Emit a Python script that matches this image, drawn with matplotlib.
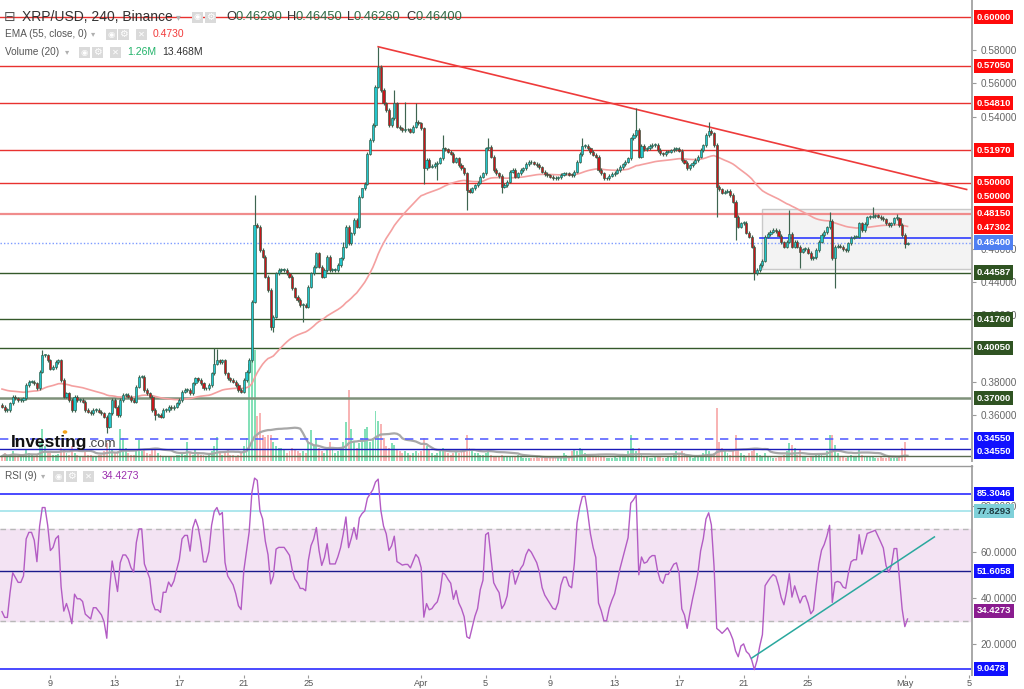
import numpy as np
import pandas as pd
import matplotlib
matplotlib.use("Agg")
import matplotlib.pyplot as plt
from matplotlib.patches import Rectangle
from matplotlib.transforms import blended_transform_factory as blend

plt.rcParams['font.family'] = ['Liberation Sans', 'DejaVu Sans']

# ---------------- data (4h candles, XRP/USD Binance) ----------------
START = pd.Timestamp("2019-03-06 00:00")
FIRST_OPEN = 0.3660
CLOSE = [
    0.3650, 0.3630, 0.3630, 0.3670, 0.3710, 0.3700, 0.3690, 0.3690, 0.3700, 0.3780,
    0.3800, 0.3800, 0.3790, 0.3760, 0.3860, 0.3960, 0.3960, 0.3930, 0.3880, 0.3890,
    0.3920, 0.3930, 0.3810, 0.3710, 0.3730, 0.3690, 0.3630, 0.3710, 0.3690, 0.3690,
    0.3680, 0.3630, 0.3620, 0.3610, 0.3630, 0.3630, 0.3620, 0.3610, 0.3590, 0.3530,
    0.3610, 0.3690, 0.3650, 0.3600, 0.3690, 0.3720, 0.3720, 0.3710, 0.3690, 0.3680,
    0.3770, 0.3830, 0.3830, 0.3750, 0.3730, 0.3710, 0.3630, 0.3600, 0.3600, 0.3590,
    0.3630, 0.3630, 0.3650, 0.3640, 0.3650, 0.3670, 0.3690, 0.3740, 0.3750, 0.3750,
    0.3730, 0.3790, 0.3820, 0.3810, 0.3790, 0.3760, 0.3760, 0.3780, 0.3850, 0.3910,
    0.3930, 0.3920, 0.3930, 0.3850, 0.3820, 0.3810, 0.3800, 0.3780, 0.3750, 0.3740,
    0.3810, 0.3861, 0.3931, 0.4283, 0.4745, 0.4735, 0.4594, 0.4554, 0.4434, 0.4353,
    0.4132, 0.4192, 0.4454, 0.4474, 0.4474, 0.4474, 0.4454, 0.4434, 0.4363, 0.4313,
    0.4293, 0.4263, 0.4263, 0.4253, 0.4373, 0.4454, 0.4494, 0.4574, 0.4494, 0.4434,
    0.4474, 0.4554, 0.4474, 0.4474, 0.4474, 0.4504, 0.4544, 0.4615, 0.4735, 0.4635,
    0.4695, 0.4775, 0.4735, 0.4916, 0.4966, 0.4996, 0.5177, 0.5258, 0.5348, 0.5580,
    0.5700, 0.5560, 0.5479, 0.5439, 0.5348, 0.5389, 0.5479, 0.5338, 0.5328, 0.5318,
    0.5322, 0.5322, 0.5308, 0.5338, 0.5368, 0.5358, 0.5328, 0.5087, 0.5137, 0.5097,
    0.5101, 0.5113, 0.5121, 0.5147, 0.5208, 0.5202, 0.5188, 0.5177, 0.5127, 0.5147,
    0.5107, 0.5087, 0.5057, 0.4956, 0.4946, 0.4966, 0.4986, 0.5000, 0.5037, 0.5057,
    0.5208, 0.5218, 0.5158, 0.5077, 0.5057, 0.5041, 0.4977, 0.4987, 0.5007, 0.5067,
    0.5077, 0.5037, 0.5057, 0.5077, 0.5087, 0.5113, 0.5128, 0.5123, 0.5115, 0.5107,
    0.5093, 0.5067, 0.5053, 0.5045, 0.5037, 0.5029, 0.5027, 0.5033, 0.5049, 0.5057,
    0.5057, 0.5049, 0.5047, 0.5067, 0.5128, 0.5174, 0.5222, 0.5224, 0.5208, 0.5186,
    0.5170, 0.5158, 0.5077, 0.5057, 0.5027, 0.5027, 0.5043, 0.5053, 0.5061, 0.5077,
    0.5095, 0.5111, 0.5128, 0.5148, 0.5268, 0.5288, 0.5318, 0.5158, 0.5222, 0.5204,
    0.5208, 0.5222, 0.5228, 0.5228, 0.5198, 0.5178, 0.5172, 0.5188, 0.5188, 0.5196,
    0.5204, 0.5206, 0.5194, 0.5136, 0.5122, 0.5087, 0.5105, 0.5122, 0.5138, 0.5158,
    0.5198, 0.5226, 0.5288, 0.5314, 0.5298, 0.5228, 0.4977, 0.4961, 0.4941, 0.4947,
    0.4953, 0.4926, 0.4886, 0.4796, 0.4735, 0.4756, 0.4760, 0.4699, 0.4675, 0.4615,
    0.4454, 0.4474, 0.4505, 0.4531, 0.4675, 0.4691, 0.4705, 0.4715, 0.4709, 0.4681,
    0.4641, 0.4615, 0.4645, 0.4691, 0.4615, 0.4645, 0.4615, 0.4585, 0.4599, 0.4601,
    0.4579, 0.4545, 0.4551, 0.4595, 0.4645, 0.4685, 0.4703, 0.4731, 0.4772, 0.4545,
    0.4615, 0.4619, 0.4615, 0.4599, 0.4595, 0.4635, 0.4669, 0.4675, 0.4675, 0.4756,
    0.4715, 0.4752, 0.4792, 0.4796, 0.4800, 0.4804, 0.4796, 0.4788, 0.4780, 0.4756,
    0.4746, 0.4756, 0.4786, 0.4786, 0.4746, 0.4685, 0.4629, 0.4640,
]
HIGHS = {15: 0.3992, 79: 0.4002, 80: 0.4000, 94: 0.4926, 127: 0.4645, 134: 0.4886,
         140: 0.5821, 146: 0.5560, 150: 0.5489, 154: 0.5479, 164: 0.5288, 181: 0.5268,
         216: 0.5268, 236: 0.5449, 263: 0.5369, 293: 0.4836, 308: 0.4826, 324: 0.4856,
         333: 0.4812, 337: 0.4645}
LOWS = {39: 0.3489, 57: 0.3570, 100: 0.4112, 101: 0.4102, 112: 0.4162, 157: 0.4996,
        162: 0.5017, 173: 0.4836, 186: 0.4937, 266: 0.4796, 273: 0.4655, 280: 0.4414,
        297: 0.4484, 310: 0.4364, 336: 0.4605, 337: 0.4626}
VOLUME = [  # millions
    15, 25, 12, 20, 30, 18, 15, 12, 20, 35,
    25, 18, 15, 22, 60, 100, 45, 30, 25, 20,
    18, 22, 40, 35, 25, 20, 45, 25, 18, 15,
    15, 30, 20, 18, 15, 15, 18, 20, 30, 55,
    45, 35, 25, 30, 100, 70, 40, 25, 20, 18,
    30, 65, 30, 35, 25, 22, 40, 35, 25, 20,
    15, 15, 12, 15, 15, 18, 20, 25, 20, 60,
    25, 20, 35, 25, 20, 18, 15, 20, 30, 45,
    75, 30, 20, 25, 35, 20, 18, 15, 20, 25,
    45, 70, 300, 350, 345, 140, 150, 80, 75, 80,
    80, 60, 45, 40, 40, 35, 25, 30, 40, 35,
    30, 25, 30, 25, 60, 95, 45, 70, 40, 30,
    25, 35, 60, 40, 25, 30, 35, 60, 120, 220,
    100, 60, 40, 55, 70, 100, 105, 60, 70, 155,
    125, 115, 70, 45, 40, 55, 50, 35, 30, 25,
    30, 25, 20, 25, 30, 25, 30, 70, 45, 35,
    25, 20, 25, 30, 40, 30, 25, 20, 25, 30,
    25, 30, 35, 80, 40, 30, 25, 25, 20, 20,
    25, 35, 20, 15, 12, 15, 20, 15, 12, 15,
    12, 15, 20, 12, 10, 10, 8, 8, 10, 12,
    8, 10, 8, 10, 8, 8, 10, 12, 15, 25,
    20, 15, 30, 35, 30, 40, 35, 25, 20, 15,
    12, 15, 20, 15, 12, 10, 8, 10, 12, 10,
    12, 15, 18, 30, 80, 40, 30, 40, 20, 15,
    12, 10, 10, 12, 15, 12, 10, 10, 12, 15,
    20, 30, 25, 30, 25, 15, 12, 10, 12, 15,
    20, 25, 35, 30, 20, 25, 165, 60, 40, 30,
    25, 20, 30, 80, 35, 25, 20, 15, 25, 30,
    35, 25, 20, 15, 25, 15, 12, 10, 10, 12,
    15, 20, 30, 55, 50, 40, 20, 35, 15, 12,
    10, 12, 15, 20, 25, 20, 15, 30, 80, 80,
    50, 25, 15, 12, 10, 15, 20, 15, 12, 35,
    20, 15, 12, 15, 12, 10, 10, 12, 8, 10,
    12, 10, 8, 10, 12, 40, 60, 1.26,
]
EMA_SEED = 0.376
RSI_SEED_GAIN, RSI_SEED_LOSS = 0.0012, 0.0022

RED_LEVELS = [0.60000, 0.57050, 0.54810, 0.51970, 0.50000]
PINK_LEVEL = 0.48150
GREEN_LEVELS = [0.44587, 0.41760, 0.40050]
OLIVE_LEVEL = 0.37000
BLUE_DASH_LEVEL = 0.34550
BLUE_SOLID_LEVEL = 0.3394
DARK_LEVEL = 0.3352
LAST_PRICE = 0.46400
RANGE_LOW, RANGE_HIGH, RANGE_MID = 0.4478, 0.4840, 0.4665
RANGE_START, MID_START = "2019-04-22 04:00", "2019-04-22 00:00"
TREND = [("2019-03-29 08:00", 0.5821), ("2019-05-04 20:00", 0.4960)]
RSI_TREND = [("2019-04-21 12:00", 13.8), ("2019-05-02 20:00", 66.6)]
RSI_LEVELS_BLUE = [85.3046, 9.0478]
RSI_LEVEL_CYAN = 77.8293
RSI_LEVEL_NAVY = 51.6058
TICK_DATES = ["2019-03-09", "2019-03-13", "2019-03-17", "2019-03-21", "2019-03-25", "2019-04-01",
              "2019-04-05", "2019-04-09", "2019-04-13", "2019-04-17", "2019-04-21", "2019-04-25",
              "2019-05-01", "2019-05-05"]
TICK_LABELS = ["9", "13", "17", "21", "25", "Apr", "5", "9", "13", "17", "21", "25", "May", "5"]
PRICE_TICKS = [0.58, 0.56, 0.54, 0.46, 0.44, 0.42, 0.38, 0.36]
RSI_TICKS = [20, 40, 60, 80]

# ---------------- derived ----------------
def to_idx(ts):
    return (pd.Timestamp(ts) - START) / pd.Timedelta(hours=4)

close = np.array(CLOSE)
vol = np.array(VOLUME, dtype=float)
n = len(close)
idx = np.arange(n)
open_ = np.r_[FIRST_OPEN, close[:-1]]
body_hi = np.maximum(open_, close)
body_lo = np.minimum(open_, close)
WICK = 0.0010
high = body_hi + WICK
low = body_lo - WICK
for k, v in HIGHS.items():
    high[k] = max(v, body_hi[k])
for k, v in LOWS.items():
    low[k] = min(v, body_lo[k])
up = close >= open_

a = 2 / 56
ema = []
e = EMA_SEED
for c in close:
    e = e + a * (c - e)
    ema.append(e)
ema = np.array(ema)

delta = np.diff(np.r_[FIRST_OPEN, close])
g, l = RSI_SEED_GAIN, RSI_SEED_LOSS
rsi = []
for d in delta:
    g = (g * 8 + max(d, 0)) / 9
    l = (l * 8 + max(-d, 0)) / 9
    rsi.append(100 - 100 / (1 + g / l))
rsi = np.array(rsi)

vol_sma = pd.Series(vol).rolling(20, min_periods=1).mean().values

# ---------------- figure ----------------
W, H = 1024, 689
fig = plt.figure(figsize=(W / 100, H / 100), dpi=100)
fig.patch.set_facecolor("white")
AXW = 972 / W
ax = fig.add_axes([0, 1 - 461 / H, AXW, 461 / H])
axv = fig.add_axes([0, 1 - 461 / H, AXW, 461 / H], sharex=ax)
axr = fig.add_axes([0, 1 - 675 / H, AXW, 209 / H], sharex=ax)
axv.set_zorder(0)
ax.set_zorder(1)
ax.patch.set_visible(False)

XLIM = (-0.74, 361.0)
ax.set_xlim(*XLIM)
ax.set_ylim(0.3322, 0.6103)
axv.set_ylim(0, 1430)
axr.set_ylim(6.43, 97.5)

# volume
vcol = np.where(up, "#84e0b8", "#f8b4b4")
axv.bar(idx, vol, width=0.72, color=vcol, linewidth=0)
axv.plot(idx, vol_sma, color="#a8a8a8", lw=1.6)
axv.axis("off")

# horizontal levels
for lv in RED_LEVELS:
    ax.axhline(lv, color="#e8322f", lw=1.0, zorder=1)
ax.axhline(PINK_LEVEL, color="#f08c8c", lw=1.6, zorder=1)
for lv in GREEN_LEVELS:
    ax.axhline(lv, color="#34592a", lw=1.0, zorder=1)
ax.axhline(OLIVE_LEVEL, color="#7f917a", lw=1.8, zorder=1)
ax.axhline(BLUE_DASH_LEVEL, color="#5a62ff", lw=1.2, ls=(0, (5, 4)), zorder=1)
ax.axhline(BLUE_SOLID_LEVEL, color="#1a1ab8", lw=1.0, zorder=1)
ax.axhline(DARK_LEVEL, color="#5b6b50", lw=1.0, zorder=1)
ax.axhline(LAST_PRICE, color="#7d9bff", lw=1.0, ls=(0, (1, 1.5)), zorder=1)

# range box
rs = to_idx(RANGE_START)
ax.add_patch(Rectangle((rs, RANGE_LOW), 400 - rs, RANGE_HIGH - RANGE_LOW,
                       fc="#f3f3f3", ec="#c9c9c9", lw=1.0, zorder=0.5))
ax.plot([to_idx(MID_START), 400], [RANGE_MID, RANGE_MID], color="#2f3cff", lw=1.2, zorder=1.5)

# trend line
ax.plot([to_idx(TREND[0][0]), to_idx(TREND[1][0])], [TREND[0][1], TREND[1][1]],
        color="#ee3b3b", lw=1.2, zorder=1.5)

# EMA
ax.plot(idx, ema, color="#f4a0a0", lw=1.2, zorder=2)

# candles
ax.vlines(idx, low, high, color="#3e6450", lw=0.85, zorder=3)
bh = np.maximum(body_hi - body_lo, 0.0005)
ax.bar(idx, bh, bottom=body_lo, width=0.8, color=np.where(up, "#22c5cc", "#c8161b"),
       edgecolor="#2f5a45", linewidth=0.45, zorder=4)

# axes styling
for a_ in (ax, axr):
    for s in ("top", "left", "bottom"):
        a_.spines[s].set_visible(False)
    a_.spines["right"].set_color("#a8a8a8")
    a_.spines["right"].set_linewidth(1.4)
    a_.yaxis.tick_right()
    a_.tick_params(axis="y", direction="out", length=3, width=0.8, colors="#999999",
                   labelcolor="#666666", labelsize=7.2, pad=3)
axr.spines["top"].set_visible(True)
axr.spines["top"].set_color("#9a9a9a")
axr.spines["top"].set_linewidth(1.0)
ax.set_yticks(PRICE_TICKS)
ax.set_yticklabels([f"{t:.5f}" for t in PRICE_TICKS])
ax.tick_params(axis="x", bottom=False, labelbottom=False)
axr.set_yticks(RSI_TICKS)
axr.set_yticklabels([f"{t:.4f}" for t in RSI_TICKS])
axr.set_xticks([to_idx(d) for d in TICK_DATES])
axr.set_xticklabels(TICK_LABELS)
axr.tick_params(axis="x", length=2.5, colors="#999999", labelcolor="#555555", labelsize=6.6, pad=0.5)
ax.set_xlim(*XLIM)

# RSI pane
axr.axhspan(30, 70, color="#f3e3f3", zorder=0)
axr.axhline(70, color="#b8b8b8", lw=1.0, ls=(0, (4, 3)), zorder=1)
axr.axhline(30, color="#b8b8b8", lw=1.0, ls=(0, (4, 3)), zorder=1)
for lv in RSI_LEVELS_BLUE:
    axr.axhline(lv, color="#3a3aff", lw=1.3, zorder=1)
axr.axhline(RSI_LEVEL_CYAN, color="#9fe3ea", lw=1.2, zorder=1)
axr.axhline(RSI_LEVEL_NAVY, color="#1a1a8c", lw=1.0, zorder=1)
axr.plot(idx, rsi, color="#b35cc4", lw=1.0, zorder=3)
axr.plot([to_idx(RSI_TREND[0][0]), to_idx(RSI_TREND[1][0])], [RSI_TREND[0][1], RSI_TREND[1][1]],
         color="#2aa89e", lw=1.1, zorder=3)

# right-side value labels
def rlabel(a_, y, text, bg, fg="white"):
    a_.text(1.0045, y, text, transform=blend(a_.transAxes, a_.transData), ha="left", va="center",
            fontsize=6.8, fontweight="bold", color=fg, clip_on=False, zorder=20,
            bbox=dict(boxstyle="square,pad=0.28", fc=bg, ec="none"))

for lv in RED_LEVELS:
    rlabel(ax, lv, f"{lv:.5f}", "#ff0a0a")
rlabel(ax, 0.4920, "0.50000", "#ff0a0a")
rlabel(ax, PINK_LEVEL, f"{PINK_LEVEL:.5f}", "#ff0a0a")
rlabel(ax, 0.4733, "0.47302", "#ff0a0a")
rlabel(ax, LAST_PRICE, f"{LAST_PRICE:.5f}", "#4f7ff2")
for lv in GREEN_LEVELS:
    rlabel(ax, lv, f"{lv:.5f}", "#2f5322")
rlabel(ax, OLIVE_LEVEL, f"{OLIVE_LEVEL:.5f}", "#2f5322")
rlabel(ax, BLUE_DASH_LEVEL, f"{BLUE_DASH_LEVEL:.5f}", "#1010ff")
rlabel(ax, 0.3378, "0.34550", "#1010ff")
rlabel(axr, 85.3046, "85.3046", "#1010ff")
rlabel(axr, RSI_LEVEL_CYAN, "77.8293", "#7fd0d9", fg="#1d3a40")
rlabel(axr, RSI_LEVEL_NAVY, "51.6058", "#1010ff")
rlabel(axr, 34.4273, "34.4273", "#8a1c8f")
rlabel(axr, 9.0478, "9.0478", "#1010ff")

# ---------------- legends (figure pixel coords) ----------------
def ftext(x, y, s, **kw):
    kw.setdefault("va", "center")
    kw.setdefault("ha", "left")
    fig.text(x / W, 1 - y / H, s, **kw)

def icon(x, y, glyph, size=6.0):
    fig.add_artist(Rectangle((x / W, 1 - (y + 5.5) / H), 11 / W, 11 / H,
                             transform=fig.transFigure, fc="#dadada", ec="none", zorder=5))
    ftext(x + 5.5, y, glyph, ha="center", fontsize=size, color="white",
          family=["DejaVu Sans"], zorder=6)

ftext(4, 17, "⊟", fontsize=10, color="#555555", family=["DejaVu Sans"])
ftext(22, 17, "XRP/USD, 240, Binance", fontsize=10, color="#333333")
ftext(176, 17, "▾", fontsize=7, color="#b0b0b0", family=["DejaVu Sans"])
icon(192, 17, "◉")
icon(205, 17, "⚙", 7)
for xl, lab, xv, val in [(226, "O", 236, "0.46290"), (287, "H", 296, "0.46450"),
                         (347, "L", 354, "0.46260"), (406, "C", 415, "0.46400")]:
    ftext(xl, 17, lab, fontsize=9.3, color="#333333")
    ftext(xv, 17, val, fontsize=9.3, color="#2f6b47")

ftext(5, 34, "EMA (55, close, 0)", fontsize=7.2, color="#555555")
ftext(91, 34, "▾", fontsize=6, color="#b0b0b0", family=["DejaVu Sans"])
icon(106, 34, "◉")
icon(118, 34, "⚙", 7)
icon(136, 34, "✕")
ftext(153, 34, "0.4730", fontsize=7.5, color="#f23b3b")

ftext(5, 52, "Volume (20)", fontsize=7.2, color="#555555")
ftext(65, 52, "▾", fontsize=6, color="#b0b0b0", family=["DejaVu Sans"])
icon(79, 52, "◉")
icon(92, 52, "⚙", 7)
icon(110, 52, "✕")
ftext(127, 52, "1.26M", fontsize=7.5, color="#22b36a")
ftext(162, 52, "13.468M", fontsize=7.5, color="#333333")

ftext(5, 476, "RSI (9)", fontsize=7.2, color="#555555")
ftext(41, 476, "▾", fontsize=6, color="#b0b0b0", family=["DejaVu Sans"])
icon(53, 476, "◉")
icon(66, 476, "⚙", 7)
icon(83, 476, "✕")
ftext(102, 476, "34.4273", fontsize=7.5, color="#9c2fae")

# Investing.com watermark
ftext(11, 442, "Investing", fontsize=12.5, fontweight="bold", color="#111111")
ftext(88, 444, ".com", fontsize=9.5, color="#444444")
fig.add_artist(plt.Circle((65 / W, 1 - 432 / H), 1.6 / W, transform=fig.transFigure,
                          color="#f4a21a", zorder=6))

fig.savefig("out.png", dpi=100)
